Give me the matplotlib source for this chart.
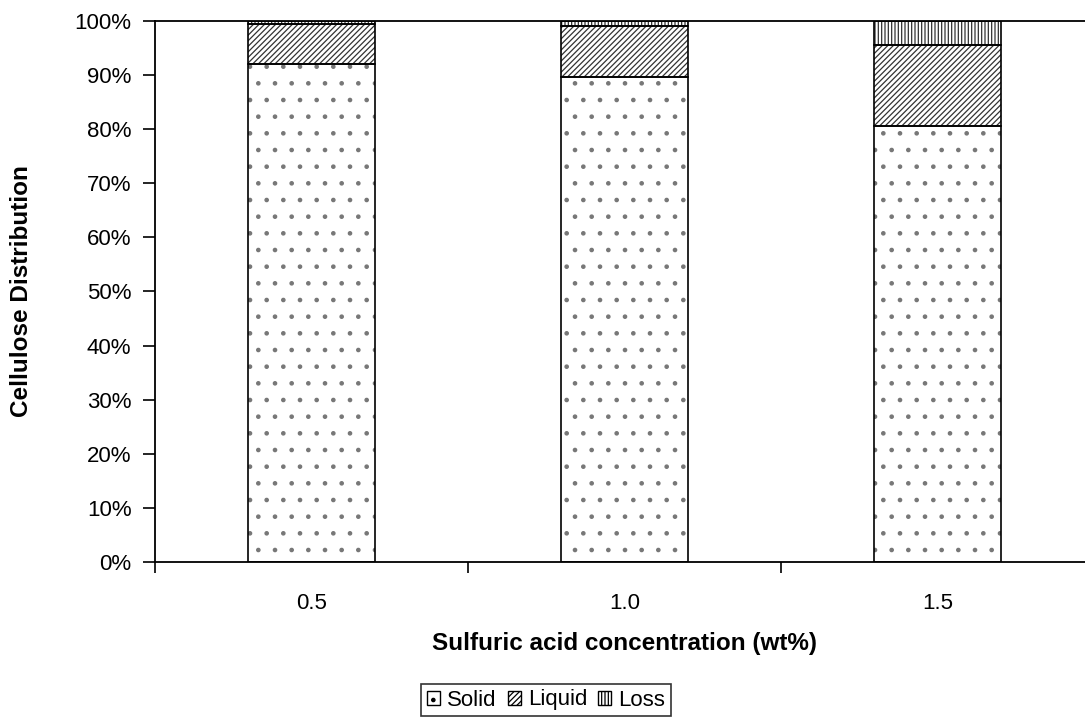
import matplotlib
matplotlib.use("Agg")
import matplotlib.pyplot as plt
from matplotlib.ticker import PercentFormatter, FixedLocator
from matplotlib.patches import Patch

plt.rcParams['font.family'] = ['Liberation Sans', 'DejaVu Sans']
plt.rcParams['hatch.linewidth'] = 0.9

categories = ['0.5', '1.0', '1.5']
solid = [92.0, 89.6, 80.6]
liquid = [7.5, 9.5, 15.0]
loss = [0.5, 0.9, 4.4]

fig = plt.figure(figsize=(10.85, 7.23), dpi=100)
ax = fig.add_axes([0.1429, 0.2227, 0.8655, 0.7483])

x = list(range(len(categories)))
w = 0.406
bot = [s + l for s, l in zip(solid, liquid)]

# hatched fills (lighter hatch colour), then black outlines on top
ax.bar(x, solid, w, color='white', edgecolor='#777777', hatch='.', linewidth=0)
ax.bar(x, liquid, w, bottom=solid, color='white', edgecolor='#333333', hatch='//////', linewidth=0)
ax.bar(x, loss, w, bottom=bot, color='white', edgecolor='#333333', hatch='|||||', linewidth=0)
ax.bar(x, solid, w, fill=False, edgecolor='black', linewidth=1.2)
ax.bar(x, liquid, w, bottom=solid, fill=False, edgecolor='black', linewidth=1.2)
ax.bar(x, loss, w, bottom=bot, fill=False, edgecolor='black', linewidth=1.2)

ax.set_xlim(-0.5, 2.5)
ax.set_ylim(0, 100)
ax.set_yticks(range(0, 101, 10))
ax.yaxis.set_major_formatter(PercentFormatter(decimals=0))
ax.set_xticks(x)
ax.set_xticklabels(categories)
ax.xaxis.set_minor_locator(FixedLocator([-0.5, 0.5, 1.5, 2.5]))
ax.tick_params(axis='x', which='major', length=0, pad=22, labelsize=16)
ax.tick_params(axis='x', which='minor', length=8, width=1.2, direction='out')
ax.tick_params(axis='y', length=9, width=1.2, direction='out', labelsize=16, pad=8)

for s in ['left', 'bottom', 'top']:
    ax.spines[s].set_linewidth(1.3)
ax.spines['right'].set_visible(False)

ax.set_xlabel('Sulfuric acid concentration (wt%)', fontsize=17.5, fontweight='bold', labelpad=13)
ax.set_ylabel('Cellulose Distribution', fontsize=17.5, fontweight='bold', labelpad=30)

# legend swatches with the same hatches
handles = [
    Patch(facecolor='white', edgecolor='black', hatch='.', label='Solid'),
    Patch(facecolor='white', edgecolor='black', hatch='//////', label='Liquid'),
    Patch(facecolor='white', edgecolor='black', hatch='|||||', label='Loss'),
]
leg = fig.legend(handles=handles, loc='center', bbox_to_anchor=(546 / 1085, 1 - 700 / 723),
                 ncol=3, fontsize=16, frameon=True, fancybox=False, edgecolor='black',
                 handlelength=0.6, handleheight=0.6, handletextpad=0.3, columnspacing=0.5,
                 borderpad=0.25)
leg.get_frame().set_linewidth(1.2)

fig.savefig('out.png', dpi=100)
